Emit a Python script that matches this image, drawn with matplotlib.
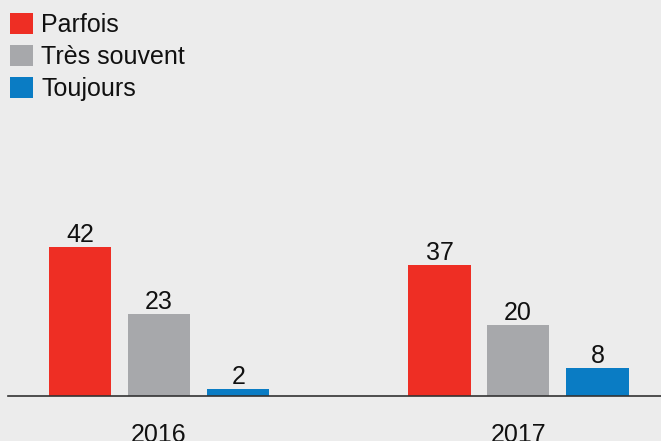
import numpy as np
import matplotlib
matplotlib.use("Agg")
import matplotlib.pyplot as plt

years = ["2016", "2017"]
series_names = ["Parfois", "Très souvent", "Toujours"]
parfois = [42, 37]
tres_souvent = [23, 20]
toujours = [2, 8]
colors = ["#ee2e24", "#a7a8ab", "#0a7cc4"]

plt.rcParams['font.family'] = ['Liberation Sans', 'DejaVu Sans']
bg = "#ececec"
fs = 18

fig = plt.figure(figsize=(6.61, 4.41), dpi=100, facecolor=bg)
ax = fig.add_axes([8 / 661, 45 / 441, 653 / 661, 396 / 441])
ax.set_facecolor(bg)

x = np.arange(len(years))
width = 0.173
offsets = [-0.219, 0.0, 0.221]
for vals, name, col, off in zip([parfois, tres_souvent, toujours], series_names, colors, offsets):
    bars = ax.bar(x + off, vals, width, color=col, label=name)
    ax.bar_label(bars, padding=0, fontsize=fs, color="#111111")

ax.set_xlim(-0.4206, 1.398)
ax.set_ylim(0, 111.5)
ax.set_xticks(x)
ax.set_xticklabels(years, fontsize=fs, color="#111111")
ax.tick_params(axis='x', length=0, pad=19.5)
ax.set_yticks([])
for s in ["top", "right", "left"]:
    ax.spines[s].set_visible(False)
ax.spines["bottom"].set_color("#333333")
ax.spines["bottom"].set_linewidth(1.2)

leg = ax.legend(loc="upper left", bbox_to_anchor=(10 / 661, 1 - 13 / 441), bbox_transform=fig.transFigure,
                frameon=False, fontsize=fs, handlelength=0.92, handleheight=0.92,
                handletextpad=0.32, labelspacing=0.31, borderaxespad=0, borderpad=0)
for t in leg.get_texts():
    t.set_color("#111111")

fig.savefig("out.png", dpi=100, facecolor=bg)
